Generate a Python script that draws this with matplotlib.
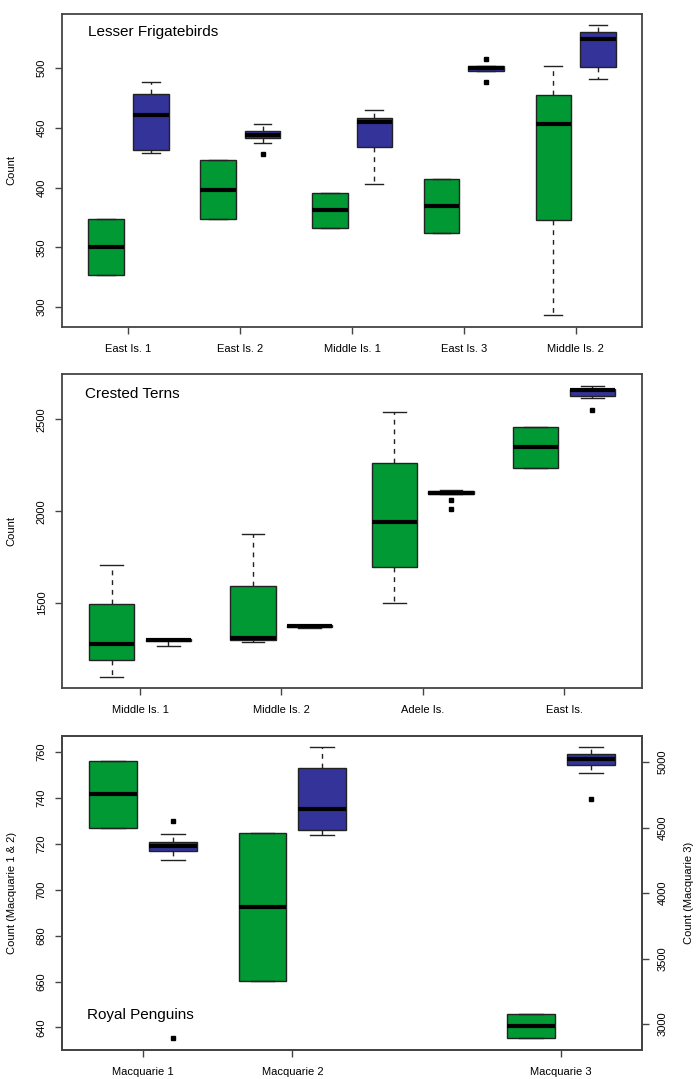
import matplotlib
matplotlib.use("Agg")
import matplotlib.pyplot as plt

plt.rcParams['font.family'] = ['Liberation Sans', 'DejaVu Sans']

GREEN = '#009933'
BLUE = '#333399'
FRAME = '#444444'

# ---- Lesser Frigatebirds ----
frig_groups = ["East Is. 1", "East Is. 2", "Middle Is. 1", "East Is. 3", "Middle Is. 2"]
frig_g_med = [350.5, 398.4, 381.2, 384.5, 453.1]
frig_g_q1 = [326.8, 373.9, 366.6, 361.9, 372.8]
frig_g_q3 = [373.9, 423.0, 395.9, 407.1, 477.7]
frig_g_lo = [326.8, 373.9, 366.6, 361.9, 293.3]
frig_g_hi = [373.9, 423.0, 395.9, 407.1, 501.9]
frig_g_out = [[], [], [], [], []]
frig_b_med = [460.9, 444.4, 455.1, 500.0, 524.3]
frig_b_q1 = [431.4, 441.7, 434.4, 497.7, 501.1]
frig_b_q3 = [478.2, 447.3, 458.7, 502.2, 530.6]
frig_b_lo = [429.1, 437.7, 403.2, 497.7, 491.0]
frig_b_hi = [488.3, 453.1, 465.4, 502.2, 536.2]
frig_b_out = [[], [428.0], [], [508.0, 488.3], []]

# ---- Crested Terns ----
tern_groups = ["Middle Is. 1", "Middle Is. 2", "Adele Is.", "East Is."]
tern_g_med = [1280, 1311, 1939, 2348]
tern_g_q1 = [1188, 1298, 1696, 2233]
tern_g_q3 = [1493, 1591, 2260, 2458]
tern_g_lo = [1097, 1289, 1498, 2233]
tern_g_hi = [1707, 1874, 2538, 2458]
tern_g_out = [[], [], [], []]
tern_b_med = [1300, 1375, 2102, 2660]
tern_b_q1 = [1295, 1371, 2096, 2630]
tern_b_q3 = [1304, 1379, 2108, 2667]
tern_b_lo = [1268, 1362, 2096, 2618]
tern_b_hi = [1306, 1381, 2115, 2681]
tern_b_out = [[], [], [2060, 2013], [2550]]

# ---- Royal Penguins (Macquarie 1 & 2 left axis, Macquarie 3 right axis) ----
peng_groups = ["Macquarie 1", "Macquarie 2"]
peng_g_med = [741.7, 692.5]
peng_g_q1 = [727.1, 660.3]
peng_g_q3 = [756.1, 724.9]
peng_g_lo = [727.1, 660.3]
peng_g_hi = [756.1, 724.9]
peng_g_out = [[], []]
peng_b_med = [719.3, 735.3]
peng_b_q1 = [717.1, 726.2]
peng_b_q3 = [720.7, 753.0]
peng_b_lo = [713.1, 724.0]
peng_b_hi = [724.2, 762.2]
peng_b_out = [[730.2, 635.3], []]

mac3_group = ["Macquarie 3"]
mac3_g_med = [2985]
mac3_g_q1 = [2893]
mac3_g_q3 = [3074]
mac3_g_lo = [2893]
mac3_g_hi = [3074]
mac3_g_out = [[]]
mac3_b_med = [5023]
mac3_b_q1 = [4977]
mac3_b_q3 = [5063]
mac3_b_lo = [4921]
mac3_b_hi = [5115]
mac3_b_out = [[4717]]


def stats(med, q1, q3, lo, hi, out):
    return [dict(med=m, q1=a, q3=b, whislo=l, whishi=h, fliers=f)
            for m, a, b, l, h, f in zip(med, q1, q3, lo, hi, out)]


def draw(ax, st, pos, color):
    ax.bxp(st, positions=pos, widths=0.8, patch_artist=True, showfliers=True,
           boxprops=dict(facecolor=color, edgecolor='#222222', linewidth=1.0),
           medianprops=dict(color='black', linewidth=3.0, solid_capstyle='butt'),
           whiskerprops=dict(color='#222222', linewidth=1.0, linestyle=(0, (3.5, 3.5))),
           capprops=dict(color='#222222', linewidth=1.0),
           flierprops=dict(marker='s', markersize=2.6, markerfacecolor='black',
                           markeredgecolor='black', linestyle='none'))


def style(ax):
    for s in ax.spines.values():
        s.set_color(FRAME)
        s.set_linewidth(1.3)
    ax.tick_params(axis='both', direction='out', length=5, width=1.0, color=FRAME,
                   labelsize=8)
    ax.tick_params(axis='x', pad=7)
    ax.tick_params(axis='y', pad=6)
    for lab in ax.get_yticklabels():
        lab.set_rotation(90)
        lab.set_va('center')


fig = plt.figure(figsize=(7, 10.79), dpi=100)
L, W = 0.0886, 0.8286

# panel 1
ax1 = fig.add_axes([L, 0.697, W, 0.290])
base = [1 + 2.5 * i for i in range(len(frig_groups))]
draw(ax1, stats(frig_g_med, frig_g_q1, frig_g_q3, frig_g_lo, frig_g_hi, frig_g_out), base, GREEN)
draw(ax1, stats(frig_b_med, frig_b_q1, frig_b_q3, frig_b_lo, frig_b_hi, frig_b_out),
     [b + 1 for b in base], BLUE)
ax1.set_xlim(0.02, 12.98)
ax1.set_ylim(283.5, 545.4)
ax1.set_xticks([b + 0.5 for b in base])
ax1.set_xticklabels(frig_groups)
ax1.set_yticks([300, 350, 400, 450, 500])
ax1.set_ylabel("Count", fontsize=8)
ax1.yaxis.set_label_coords(-0.078, 0.5)
ax1.text(0.045, 0.942, "Lesser Frigatebirds", transform=ax1.transAxes, fontsize=11,
         va='center', ha='left')
style(ax1)

# panel 2
ax2 = fig.add_axes([L, 0.362, W, 0.291])
base = [1 + 2.5 * i for i in range(len(tern_groups))]
draw(ax2, stats(tern_g_med, tern_g_q1, tern_g_q3, tern_g_lo, tern_g_hi, tern_g_out), base, GREEN)
draw(ax2, stats(tern_b_med, tern_b_q1, tern_b_q3, tern_b_lo, tern_b_hi, tern_b_out),
     [b + 1 for b in base], BLUE)
ax2.set_xlim(0.12, 10.38)
ax2.set_ylim(1035.6, 2745)
ax2.set_xticks([b + 0.5 for b in base])
ax2.set_xticklabels(tern_groups)
ax2.set_yticks([1500, 2000, 2500])
ax2.set_ylabel("Count", fontsize=8)
ax2.yaxis.set_label_coords(-0.078, 0.5)
ax2.text(0.04, 0.937, "Crested Terns", transform=ax2.transAxes, fontsize=11,
         va='center', ha='left')
style(ax2)

# panel 3
ax3 = fig.add_axes([L, 0.0266, W, 0.2916])
base = [1, 3.5]
draw(ax3, stats(peng_g_med, peng_g_q1, peng_g_q3, peng_g_lo, peng_g_hi, peng_g_out), base, GREEN)
draw(ax3, stats(peng_b_med, peng_b_q1, peng_b_q3, peng_b_lo, peng_b_hi, peng_b_out),
     [b + 1 for b in base], BLUE)
ax3.set_xlim(0.14, 9.86)
ax3.set_ylim(630, 767.2)
ax3.set_yticks([640, 660, 680, 700, 720, 740, 760])
ax3.set_ylabel("Count (Macquarie 1 & 2)", fontsize=8)
ax3.yaxis.set_label_coords(-0.078, 0.5)
ax3.text(0.043, 0.112, "Royal Penguins", transform=ax3.transAxes, fontsize=11,
         va='center', ha='left')

ax3r = ax3.twinx()
draw(ax3r, stats(mac3_g_med, mac3_g_q1, mac3_g_q3, mac3_g_lo, mac3_g_hi, mac3_g_out), [8], GREEN)
draw(ax3r, stats(mac3_b_med, mac3_b_q1, mac3_b_q3, mac3_b_lo, mac3_b_hi, mac3_b_out), [9], BLUE)
ax3r.set_xlim(0.14, 9.86)
ax3r.set_ylim(2799, 5203)
ax3r.set_yticks([3000, 3500, 4000, 4500, 5000])
ax3r.set_ylabel("Count (Macquarie 3)", fontsize=8, labelpad=12)
ax3.set_xticks([1.5, 4, 8.5])
ax3.set_xticklabels(peng_groups + mac3_group)
style(ax3)
style(ax3r)

fig.savefig("out.png", dpi=100)
